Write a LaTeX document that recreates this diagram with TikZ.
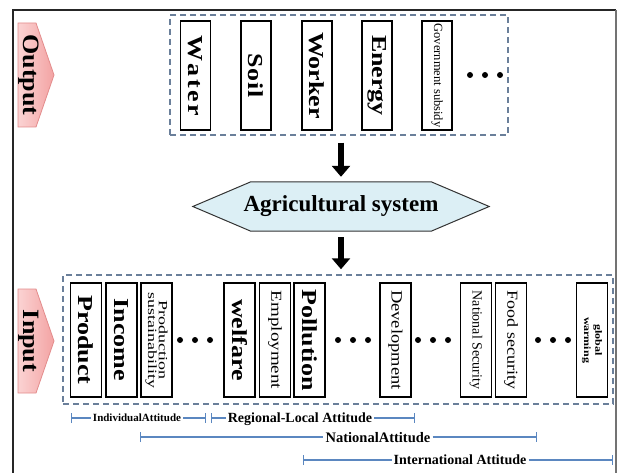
\documentclass[tikz,border=0pt]{standalone}
\usepackage{fontspec}
\usepackage{graphicx}
\setmainfont{Liberation Serif}
\usetikzlibrary{arrows.meta,backgrounds}
\definecolor{dashc}{HTML}{6A7F9A}
\definecolor{rulec}{HTML}{5B87C0}
\definecolor{hexfill}{HTML}{DCEFF5}
\definecolor{pinkL}{HTML}{FBD3D3}
\definecolor{pinkD}{HTML}{F3A3A3}
\definecolor{pinkB}{HTML}{E38C8C}
\newcommand{\vsqz}[2]{\scalebox{1}[#1]{#2}}
\begin{document}
\begin{tikzpicture}[x=1pt,y=-1pt,
  oitem/.style={draw=black, line width=1.2pt, fill=white, rotate=-90, inner sep=0pt,
    minimum width=109pt, minimum height=30pt, align=center},
  iitem/.style={oitem, minimum width=114pt, minimum height=31pt},
  fb/.style={font=\bfseries\fontsize{#1}{#1}\selectfont},
  fr/.style={font=\fontsize{#1}{#1}\selectfont},
  dashbox/.style={draw=dashc, line width=1.5pt, dash pattern=on 6pt off 4pt, inner sep=0pt},
  dot/.style={circle, fill=black, inner sep=0pt, minimum size=6pt},
  bigarrow/.style={line width=6pt, -{Triangle[width=18pt,length=11pt]}},
  ruler/.style={draw=rulec, line width=1.2pt},
  rtext/.style={inner sep=2pt, text depth=0pt},
  sidelab/.style={rotate=-90, inner sep=0pt, font=\bfseries\fontsize{26}{26}\selectfont},
  pent/.style={left color=pinkL, right color=pinkD, draw=pinkB, line width=0.8pt}
]
\useasboundingbox (0,0) rectangle (618,473);
% frame
\draw[line width=1.5pt, black!85] (13,475) -- (13,10) -- (616,10);
\draw[line width=1.2pt, black!55] (616,10) -- (616,475);

% side labels
\path[pent] (18,23) -- (36,23) -- (54,75) -- (36,127) -- (18,127) -- cycle;
\node[sidelab] (outlab) at (29,75) {\vsqz{0.9}{Output}};
\path[pent] (18,289) -- (36,289) -- (54,341) -- (36,393) -- (18,393) -- cycle;
\node[sidelab] (inlab) at (29,341) {\vsqz{0.9}{Input}};

% output box
\node[dashbox, minimum width=338pt, minimum height=120pt] (outbox) at (339,75) {};
\node[oitem, fb=26] (water) at (195.5,75.5) {\vsqz{0.82}{W\kern2.5pt a\kern2.5pt t\kern2.5pt e\kern2.5pt r}};
\node[oitem, fb=26] (soil) at (256,75.5) {\vsqz{0.82}{S\kern1pt o\kern1pt i\kern1pt l}};
\node[oitem, fb=26] (worker) at (317,75.5) {\vsqz{0.82}{Worker}};
\node[oitem, fb=26] (energy) at (377,75.5) {\vsqz{0.82}{Energy}};
\node[oitem, fr=12.5] (gov) at (437,75.5) {Government subsidy};
\node[dot] (od1) at (470,75) {};
\node[dot] (od2) at (485,75) {};
\node[dot] (od3) at (500,75) {};

% agricultural system
\node[inner sep=0pt, minimum width=296pt, minimum height=49pt, fb=23] (agri) at (341,206.5) {Agricultural system};
\begin{scope}[on background layer]
\draw[fill=hexfill, draw=black!80, line width=1pt]
  (agri.west) -- ([xshift=58pt]agri.north west) -- ([xshift=-58pt]agri.north east)
  -- (agri.east) -- ([xshift=-58pt]agri.south east) -- ([xshift=58pt]agri.south west) -- cycle;
\end{scope}

% input box
\node[dashbox, minimum width=550pt, minimum height=129pt] (inbox) at (338,339.5) {};
\node[iitem, fb=26] (product) at (86,340) {\vsqz{0.82}{Product}};
\node[iitem, fb=26] (income) at (121.5,340) {\vsqz{0.82}{Income}};
\node[iitem, fr=18] (prodsus) at (156.5,340) {\vsqz{0.7}{\shortstack{Production\\sustainability}}};
\node[dot] (d11) at (180,340) {};
\node[dot] (d12) at (195,340) {};
\node[dot] (d13) at (210,340) {};
\node[iitem, fb=26] (welfare) at (239.5,340) {\vsqz{0.82}{welfare}};
\node[iitem, fr=19] (employ) at (275,340) {\vsqz{0.8}{Employment}};
\node[iitem, fb=26] (pollution) at (309.5,340) {\vsqz{0.82}{Pollution}};
\node[dot] (d21) at (338,340) {};
\node[dot] (d22) at (353,340) {};
\node[dot] (d23) at (368,340) {};
\node[iitem, fr=18.5] (devel) at (395.5,340) {\vsqz{0.85}{Development}};
\node[dot] (d31) at (418,340) {};
\node[dot] (d32) at (433,340) {};
\node[dot] (d33) at (448,340) {};
\node[iitem, fr=14] (natsec) at (476,340) {National Security};
\node[iitem, fr=18] (food) at (511,340) {\vsqz{0.85}{Food security}};
\node[dot] (d41) at (538,340) {};
\node[dot] (d42) at (553,340) {};
\node[dot] (d43) at (568,340) {};
\node[iitem, fb=12] (global) at (592,340) {\vsqz{0.8}{\shortstack{global\\warming}}};

% arrows
\draw[bigarrow, shorten <=7pt, shorten >=5pt] (agri.north |- outbox.south) -- (agri.north);
\draw[bigarrow, shorten <=6pt, shorten >=5pt] (agri.south) -- (agri.south |- inbox.north);

% attitude rulers
\node[rtext, fb=11] (indiv) at (137,418) {IndividualAttitude};
\coordinate (indivL) at (71,418);
\coordinate (indivR) at (206,418);
\draw[ruler, {Bar[width=10pt]}-] (indivL) -- (indiv.west);
\draw[ruler, -{Bar[width=10pt]}] (indiv.east) -- (indivR);

\node[rtext, fb=14] (regional) at (300,418) {Regional-Local Attitude};
\coordinate (regL) at (211,418);
\coordinate (regR) at (415,418);
\draw[ruler, {Bar[width=10pt]}-] (regL) -- (regional.west);
\draw[ruler, -{Bar[width=10pt]}] (regional.east) -- (regR);

\node[rtext, fb=14.5] (national) at (378,437) {NationalAttitude};
\coordinate (natL) at (140,437);
\coordinate (natR) at (537,437);
\draw[ruler, {Bar[width=10pt]}-] (natL) -- (national.west);
\draw[ruler, -{Bar[width=10pt]}] (national.east) -- (natR);

\node[rtext, fb=14] (intl) at (460,460) {International Attitude};
\coordinate (intL) at (303,460);
\coordinate (intR) at (613,460);
\draw[ruler, {Bar[width=10pt]}-] (intL) -- (intl.west);
\draw[ruler, -{Bar[width=10pt]}] (intl.east) -- (intR);
\end{tikzpicture}
\end{document}
